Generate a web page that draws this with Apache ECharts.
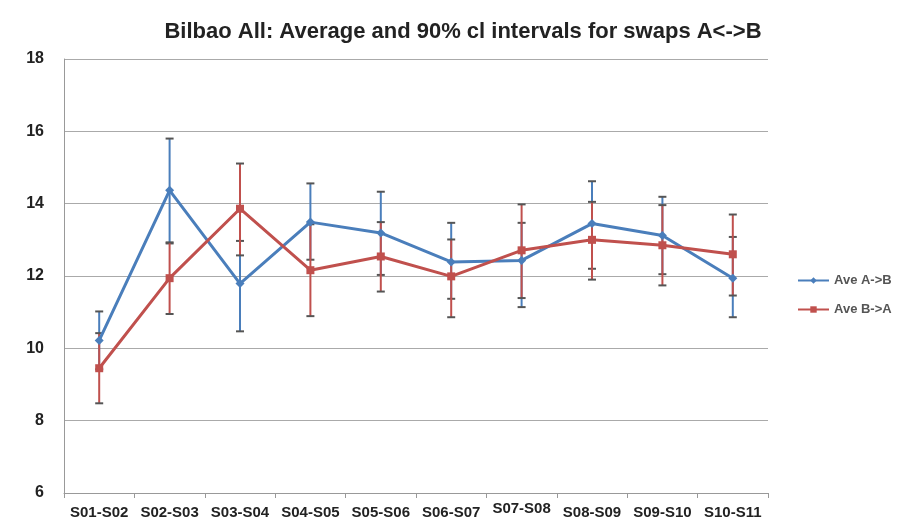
<!DOCTYPE html>
<html><head><meta charset="utf-8">
<script src="https://cdn.jsdelivr.net/npm/echarts@6/dist/echarts.min.js"></script>
<style>html,body{margin:0;padding:0;background:#fff}#c{width:901px;height:526px}</style>
</head><body><div id="c"></div>
<script>
var categories = ['S01-S02','S02-S03','S03-S04','S04-S05','S05-S06','S06-S07','S07-S08','S08-S09','S09-S10','S10-S11'];
var aveAB = [10.22, 14.37, 11.79, 13.49, 13.19, 12.39, 12.43, 13.45, 13.12, 11.94];
var lowAB = [9.42, 12.90, 10.47, 12.45, 12.03, 11.37, 11.14, 12.20, 12.05, 10.86];
var highAB = [11.02, 15.80, 12.97, 14.56, 14.33, 13.47, 13.47, 14.62, 14.19, 13.08];
var aveBA = [9.45, 11.94, 13.86, 12.16, 12.54, 11.99, 12.71, 13.00, 12.85, 12.60];
var lowBA = [8.48, 10.95, 12.57, 10.89, 11.57, 10.86, 11.39, 11.90, 11.74, 11.46];
var highBA = [10.42, 12.93, 15.11, 13.43, 13.49, 13.01, 13.98, 14.05, 13.96, 13.70];
var yTicks = [6, 8, 10, 12, 14, 16, 18];

var blue = '#4a7ebb', red = '#c0504d';
function errData(lo, hi) { return categories.map(function (c, i) { return [i, lo[i], hi[i]]; }); }
function errSeries(lo, hi, color) {
  return {
    type: 'custom', silent: true, z: 3,
    data: errData(lo, hi),
    renderItem: function (params, api) {
      var x = api.value(0);
      var p1 = api.coord([x, api.value(1)]);
      var p2 = api.coord([x, api.value(2)]);
      var w = 4;
      var st = { stroke: color, lineWidth: 2 };
      var cs = { stroke: '#555', lineWidth: 2 };
      return { type: 'group', children: [
        { type: 'line', shape: { x1: p1[0], y1: p1[1], x2: p2[0], y2: p2[1] }, style: st },
        { type: 'line', shape: { x1: p1[0] - w, y1: p1[1], x2: p1[0] + w, y2: p1[1] }, style: cs },
        { type: 'line', shape: { x1: p2[0] - w, y1: p2[1], x2: p2[0] + w, y2: p2[1] }, style: cs }
      ]};
    }
  };
}
var chart = echarts.init(document.getElementById('c'));
chart.setOption({
  animation: false,
  backgroundColor: '#fff',
  title: { text: 'Bilbao All: Average and 90% cl intervals for swaps A<->B', left: 458, textAlign: 'center', top: 16,
    textStyle: { fontFamily: 'Liberation Sans', fontWeight: 'bold', fontSize: 22, color: '#222' } },
  legend: { orient: 'vertical', left: 792, top: 269, itemWidth: 31, itemHeight: 8, itemGap: 16,
    textStyle: { fontFamily: 'Liberation Sans', fontWeight: 'bold', fontSize: 13, color: '#555' },
    data: ['Ave A->B', 'Ave B->A'] },
  grid: { left: 64, right: 133, top: 59, bottom: 33 },
  xAxis: { type: 'category', data: categories, boundaryGap: true,
    axisLine: { lineStyle: { color: '#999', width: 1 } },
    axisTick: { show: true, length: 5, lineStyle: { color: '#999' } },
    axisLabel: { interval: 0, margin: 12, fontFamily: 'Liberation Sans', fontWeight: 'bold', fontSize: 15, color: '#222',
      formatter: function (v) { return v === 'S07-S08' ? '{up|' + v + '}' : v; },
      rich: { up: { fontFamily: 'Liberation Sans', fontWeight: 'bold', fontSize: 15, color: '#222', lineHeight: 8 } } } },
  yAxis: { type: 'value', min: 6, max: 18, interval: 2,
    axisLine: { show: true, lineStyle: { color: '#999' } },
    axisTick: { show: false },
    splitLine: { lineStyle: { color: '#aaa', width: 1 } },
    axisLabel: { margin: 20, fontFamily: 'Liberation Sans', fontWeight: 'bold', fontSize: 16, color: '#222',
      formatter: function (v) { return yTicks.indexOf(v) >= 0 ? String(v) : ''; } } },
  series: [
    errSeries(lowAB, highAB, blue),
    errSeries(lowBA, highBA, red),
    { name: 'Ave A->B', type: 'line', data: aveAB, z: 4, symbol: 'diamond', symbolSize: 9,
      lineStyle: { color: blue, width: 3 }, itemStyle: { color: blue } },
    { name: 'Ave B->A', type: 'line', data: aveBA, z: 5, symbol: 'rect', symbolSize: 8,
      lineStyle: { color: red, width: 3 }, itemStyle: { color: red } }
  ]
});
</script></body></html>
